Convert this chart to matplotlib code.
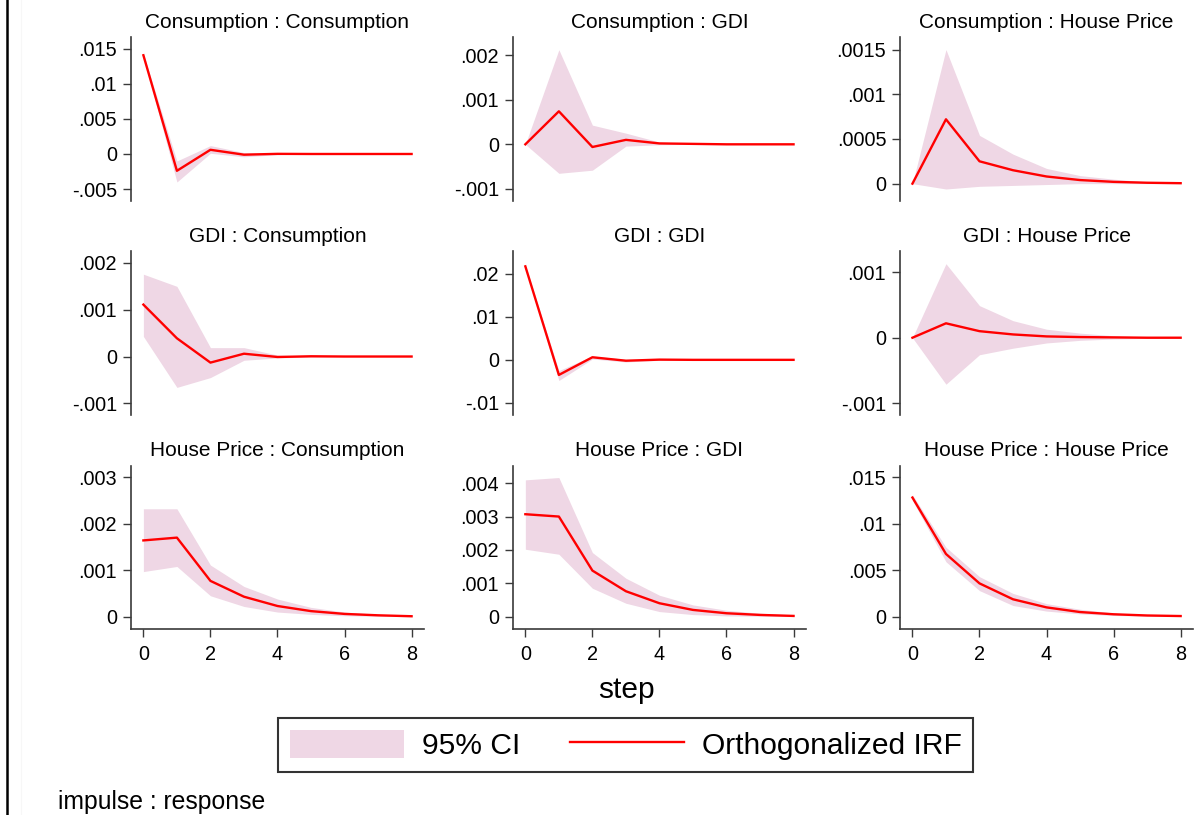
"""Orthogonalized impulse-response functions, 3x3 grid (impulse : response)."""
import matplotlib
matplotlib.use("Agg")
import matplotlib.pyplot as plt
from matplotlib.lines import Line2D
from matplotlib.patches import Patch

plt.rcParams["font.family"] = ["Liberation Sans", "DejaVu Sans"]

steps = [0, 1, 2, 3, 4, 5, 6, 7, 8]
variables = ["Consumption", "GDI", "House Price"]

# irf[(impulse, response)] and CI bounds
irf = {
    ("Consumption", "Consumption"): [0.0141, -0.0024, 0.0006, -0.0001, 0.00002, 0.0, 0.0, 0.0, 0.0],
    ("Consumption", "GDI"): [0.0, 0.00074, -0.00006, 0.0001, 0.00002, 0.00001, 0.0, 0.0, 0.0],
    ("Consumption", "House Price"): [0.0, 0.00072, 0.00025, 0.00015, 0.00008, 0.00004, 0.00002, 0.00001, 0.000005],
    ("GDI", "Consumption"): [0.00111, 0.00039, -0.00013, 0.00006, -0.00001, 0.000005, 0.0, 0.0, 0.0],
    ("GDI", "GDI"): [0.0217, -0.0035, 0.0006, -0.0002, 0.00005, 0.0, 0.0, 0.0, 0.0],
    ("GDI", "House Price"): [0.0, 0.00022, 0.0001, 0.00005, 0.00002, 0.00001, 0.000005, 0.0, 0.0],
    ("House Price", "Consumption"): [0.00164, 0.0017, 0.00077, 0.00043, 0.00023, 0.00012, 0.00006, 0.00003, 0.00001],
    ("House Price", "GDI"): [0.00307, 0.003, 0.00138, 0.00076, 0.0004, 0.0002, 0.0001, 0.00005, 0.00002],
    ("House Price", "House Price"): [0.0128, 0.00674, 0.00358, 0.00187, 0.001, 0.0005, 0.00026, 0.00013, 0.00007],
}
ci_lower = {
    ("Consumption", "Consumption"): [0.0139, -0.0040, 0.0001, -0.0004, -0.0001, 0.0, 0.0, 0.0, 0.0],
    ("Consumption", "GDI"): [0.0, -0.00065, -0.00058, -0.00004, -0.00001, 0.0, 0.0, 0.0, 0.0],
    ("Consumption", "House Price"): [0.0, -0.00006, -0.00003, -0.00002, -0.00001, 0.0, 0.0, 0.0, 0.0],
    ("GDI", "Consumption"): [0.00043, -0.00066, -0.00045, -0.00008, -0.00003, -0.00001, 0.0, 0.0, 0.0],
    ("GDI", "GDI"): [0.0215, -0.0048, 0.0002, -0.0005, -0.0001, 0.0, 0.0, 0.0, 0.0],
    ("GDI", "House Price"): [0.0, -0.00071, -0.00026, -0.00016, -0.00008, -0.00004, -0.00002, -0.00001, 0.0],
    ("House Price", "Consumption"): [0.00097, 0.00108, 0.00045, 0.00022, 0.0001, 0.00005, 0.00002, 0.00001, 0.0],
    ("House Price", "GDI"): [0.00202, 0.00187, 0.00085, 0.0004, 0.00015, 0.00006, 0.00002, 0.00001, 0.0],
    ("House Price", "House Price"): [0.0125, 0.0059, 0.0028, 0.0012, 0.0006, 0.0003, 0.00013, 0.00006, 0.00003],
}
ci_upper = {
    ("Consumption", "Consumption"): [0.0143, -0.0010, 0.0012, 0.0002, 0.0001, 0.0, 0.0, 0.0, 0.0],
    ("Consumption", "GDI"): [0.0, 0.00212, 0.00043, 0.00025, 0.00005, 0.00002, 0.0, 0.0, 0.0],
    ("Consumption", "House Price"): [0.0, 0.0015, 0.00054, 0.00033, 0.00017, 0.00009, 0.00005, 0.00002, 0.00001],
    ("GDI", "Consumption"): [0.00176, 0.0015, 0.00019, 0.00019, 0.00003, 0.00001, 0.0, 0.0, 0.0],
    ("GDI", "GDI"): [0.0219, -0.0025, 0.0009, 0.0001, 0.0002, 0.0, 0.0, 0.0, 0.0],
    ("GDI", "House Price"): [0.0, 0.00113, 0.00049, 0.00026, 0.00013, 0.00007, 0.00003, 0.00001, 0.000005],
    ("House Price", "Consumption"): [0.00232, 0.00232, 0.00111, 0.00065, 0.00038, 0.0002, 0.0001, 0.00005, 0.00002],
    ("House Price", "GDI"): [0.0041, 0.00417, 0.00192, 0.00115, 0.00064, 0.00035, 0.00019, 0.0001, 0.00005],
    ("House Price", "House Price"): [0.0131, 0.00746, 0.0043, 0.0025, 0.0014, 0.0008, 0.0004, 0.0002, 0.0001],
}

# y ticks per panel (labels are written Stata-style, e.g. ".015")
yticks = {
    ("Consumption", "Consumption"): [-0.005, 0, 0.005, 0.01, 0.015],
    ("Consumption", "GDI"): [-0.001, 0, 0.001, 0.002],
    ("Consumption", "House Price"): [0, 0.0005, 0.001, 0.0015],
    ("GDI", "Consumption"): [-0.001, 0, 0.001, 0.002],
    ("GDI", "GDI"): [-0.01, 0, 0.01, 0.02],
    ("GDI", "House Price"): [-0.001, 0, 0.001],
    ("House Price", "Consumption"): [0, 0.001, 0.002, 0.003],
    ("House Price", "GDI"): [0, 0.001, 0.002, 0.003, 0.004],
    ("House Price", "House Price"): [0, 0.005, 0.01, 0.015],
}
ylims = {
    ("Consumption", "Consumption"): (-0.00671, 0.01667),
    ("Consumption", "GDI"): (-0.00127, 0.0024),
    ("Consumption", "House Price"): (-0.000194, 0.001638),
    ("GDI", "Consumption"): (-0.00125, 0.00225),
    ("GDI", "GDI"): (-0.0128, 0.0252),
    ("GDI", "House Price"): (-0.00118, 0.00132),
    ("House Price", "Consumption"): (-0.00027, 0.00325),
    ("House Price", "GDI"): (-0.00038, 0.00453),
    ("House Price", "House Price"): (-0.00135, 0.01624),
}
xticks = [0, 2, 4, 6, 8]


def stata_label(v):
    if v == 0:
        return "0"
    s = f"{v:.4f}".rstrip("0")
    return s.replace("0.", ".", 1)


CI_COLOR = "#efd7e5"
LINE_COLOR = "#ff0000"
AX_COLOR = "#3a3a3a"

fig = plt.figure(figsize=(11.94, 8.15), dpi=100)

lefts = [0.1097, 0.4296, 0.7538]
bottoms = [0.7534, 0.4908, 0.2279]
w, h = 0.2454, 0.2009

for r, imp in enumerate(variables):
    for c, resp in enumerate(variables):
        key = (imp, resp)
        ax = fig.add_axes([lefts[c], bottoms[r], w, h])
        ax.fill_between(steps, ci_lower[key], ci_upper[key], color=CI_COLOR, lw=0)
        ax.plot(steps, irf[key], color=LINE_COLOR, lw=1.7)
        ax.set_xlim(-0.37, 8.37)
        ax.set_ylim(*ylims[key])
        ax.set_yticks(yticks[key])
        ax.set_yticklabels([stata_label(v) for v in yticks[key]])
        for side in ("top", "right"):
            ax.spines[side].set_visible(False)
        ax.spines["left"].set_color(AX_COLOR)
        ax.spines["left"].set_linewidth(1.2)
        ax.tick_params(axis="y", direction="out", length=6, width=1, color=AX_COLOR,
                       labelsize=14.3, pad=4)
        if r == 2:
            ax.set_xticks(xticks)
            ax.spines["bottom"].set_color(AX_COLOR)
            ax.spines["bottom"].set_linewidth(1.2)
            ax.tick_params(axis="x", direction="out", length=6, width=1, color=AX_COLOR,
                           labelsize=14.3, pad=5)
        else:
            ax.spines["bottom"].set_visible(False)
            ax.set_xticks([])
        ax.set_title(f"{imp} : {resp}", fontsize=15, pad=7)

fig.text(0.525, 0.1534, "step", ha="center", va="center", fontsize=21.5)
fig.text(0.0486, 0.016, "impulse : response", ha="left", va="center", fontsize=17.8)

handles = [Patch(facecolor=CI_COLOR, edgecolor="none"),
           Line2D([0], [0], color=LINE_COLOR, lw=1.7)]
leg = fig.legend(handles, ["95% CI", "Orthogonalized IRF"], ncol=2,
                 loc="center", bbox_to_anchor=(0.524, 0.0859), fontsize=21.6,
                 frameon=True, fancybox=False, edgecolor="black",
                 handlelength=3.8, handleheight=1.05, handletextpad=0.6,
                 columnspacing=1.65, borderpad=0.4)
leg.get_frame().set_linewidth(1.5)

# left border of the image
fig.add_artist(Line2D([0.0059, 0.0059], [0, 1], color="black", lw=1.8,
                      transform=fig.transFigure))
fig.add_artist(Line2D([0.0176, 0.0176], [0, 1], color="#f7f7f7", lw=0.8,
                      transform=fig.transFigure))

fig.savefig("out.png", dpi=100)
